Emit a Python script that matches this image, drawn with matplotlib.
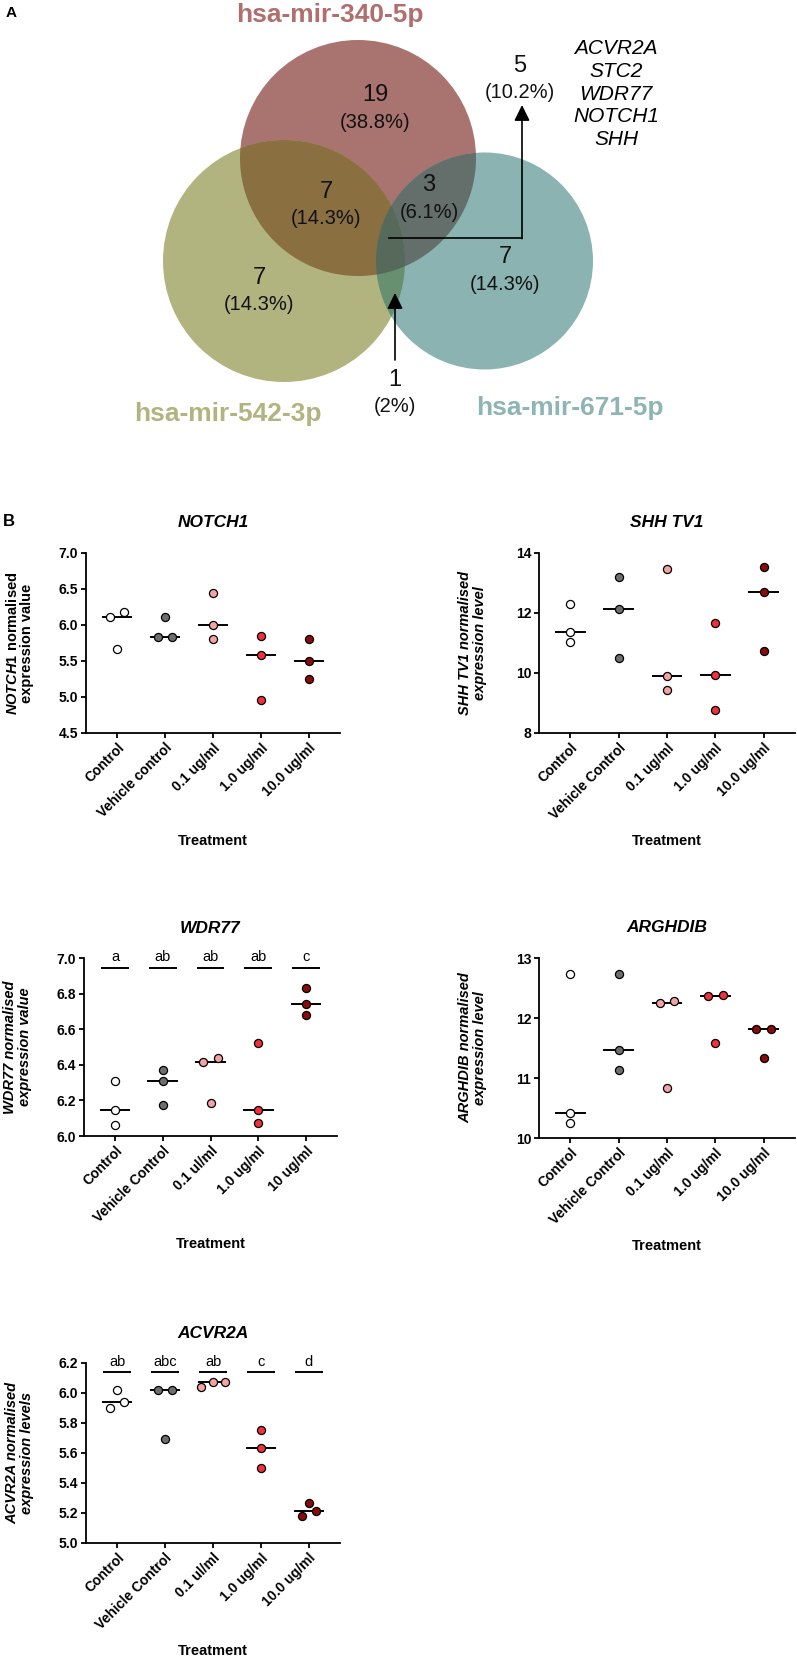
# Venn diagram of miRNA targets (A) and qPCR scatter panels (B)
import numpy as np
import matplotlib
matplotlib.use("Agg")
import matplotlib.pyplot as plt
from matplotlib.patches import Circle, Polygon
from matplotlib.ticker import FormatStrFormatter

plt.rcParams['font.family'] = ['Liberation Sans', 'DejaVu Sans']
plt.rcParams['mathtext.fontset'] = 'custom'
plt.rcParams['mathtext.it'] = 'Liberation Sans:italic:bold'
plt.rcParams['mathtext.rm'] = 'Liberation Sans:bold'
plt.rcParams['mathtext.bf'] = 'Liberation Sans:bold'

W, H = 797, 1659

# ---------------- data: panel A ----------------
venn_names = ["hsa-mir-340-5p", "hsa-mir-542-3p", "hsa-mir-671-5p"]
venn_regions = ["340", "542", "671", "340&542", "340&671", "542&671", "all"]
venn_counts = [19, 7, 7, 7, 3, 1, 5]
shared_genes = ["ACVR2A", "STC2", "WDR77", "NOTCH1", "SHH"]

# ---------------- data: panel B ----------------
group_colors = ["#FFFFFF", "#6E6E6E", "#F4A3A3", "#F0303A", "#8B0A0A"]

notch1_labels = ["Control", "Vehicle control", "0.1 ug/ml", "1.0 ug/ml", "10.0 ug/ml"]
notch1_vals = [[6.11, 6.18, 5.66], [6.11, 5.83, 5.83], [6.44, 6.00, 5.81],
               [5.85, 5.58, 4.96], [5.81, 5.50, 5.25]]
notch1_dx = [[-1, 1, 0], [0, -1, 1], [0, 0, 0], [0, 0, 0], [0, 0, 0]]

shh_labels = ["Control", "Vehicle Control", "0.1 ug/ml", "1.0 ug/ml", "10.0 ug/ml"]
shh_vals = [[12.31, 11.37, 11.02], [13.21, 12.14, 10.49], [13.46, 9.91, 9.43],
            [11.67, 9.93, 8.77], [13.52, 12.69, 10.73]]
shh_dx = [[0, 0, 0]] * 5

wdr77_labels = ["Control", "Vehicle Control", "0.1 ul/ml", "1.0 ug/ml", "10 ug/ml"]
wdr77_vals = [[6.31, 6.146, 6.064], [6.37, 6.31, 6.175], [6.417, 6.44, 6.185],
              [6.523, 6.145, 6.074], [6.834, 6.742, 6.677]]
wdr77_dx = [[0, 0, 0], [0, 0, 0], [-1, 1, 0], [0, 0, 0], [0, 0, 0]]
wdr77_letters = ["a", "ab", "ab", "ab", "c"]

arghdib_labels = ["Control", "Vehicle Control", "0.1 ug/ml", "1.0 ug/ml", "10.0 ug/ml"]
arghdib_vals = [[12.74, 10.42, 10.25], [12.73, 11.47, 11.13], [12.25, 12.28, 10.83],
                [12.36, 12.39, 11.58], [11.82, 11.82, 11.34]]
arghdib_dx = [[0, 0, 0], [0, 0, 0], [-1, 1, 0], [-1, 1, 0], [-1, 1, 0]]

acvr2a_labels = ["Control", "Vehicle Control", "0.1 ul/ml", "1.0 ug/ml", "10.0 ug/ml"]
acvr2a_vals = [[6.022, 5.899, 5.937], [6.019, 6.019, 5.694], [6.042, 6.071, 6.071],
               [5.752, 5.631, 5.502], [5.181, 5.268, 5.216]]
acvr2a_dx = [[0, -1, 1], [-1, 1, 0], [-1.7, 0, 1.7], [0, 0, 0], [-1, 0, 1]]
acvr2a_letters = ["ab", "abc", "ab", "c", "d"]


def px_axes(fig, left, top, right, bottom):
    return fig.add_axes([left / W, 1 - bottom / H, (right - left) / W, (bottom - top) / H])


def overlap_poly(circles, n=900):
    # intersection of circles (convex) as a polygon
    t = np.linspace(0, 2 * np.pi, n, endpoint=False)
    pts = []
    for k, (cx, cy, r) in enumerate(circles):
        p = np.c_[cx + r * np.cos(t), cy + r * np.sin(t)]
        keep = np.ones(n, bool)
        for j, (ox, oy, orr) in enumerate(circles):
            if j != k:
                keep &= np.hypot(p[:, 0] - ox, p[:, 1] - oy) <= orr + 1e-6
        pts.append(p[keep])
    P = np.vstack(pts)
    c = P.mean(axis=0)
    P = P[np.argsort(np.arctan2(P[:, 1] - c[1], P[:, 0] - c[0]))]
    return P


fig = plt.figure(figsize=(W / 100, H / 100), dpi=100)

# ---------------- panel A: Venn ----------------
ax0 = px_axes(fig, 0, 0, W, 430)
ax0.set_xlim(0, W)
ax0.set_ylim(430, 0)
ax0.axis('off')

circ = [(358, 158, 118), (284, 261, 121), (484.5, 261, 108.5)]
single_cols = ["#A97370", "#B2B480", "#8BB3B1"]
for (cx, cy, r), col in zip(circ, single_cols):
    ax0.add_patch(Circle((cx, cy), r, fc=col, ec='none', zorder=1))
pair_cols = {(0, 1): "#8A6F41", (0, 2): "#646F6B", (1, 2): "#66906F"}
for (a, b), col in pair_cols.items():
    ax0.add_patch(Polygon(overlap_poly([circ[a], circ[b]]), fc=col, ec='none', zorder=2))
ax0.add_patch(Polygon(overlap_poly(circ), fc="#57695A", ec='none', zorder=3))

total = sum(venn_counts)
pos = {"340": (375, 95), "542": (259, 278), "671": (505, 257), "340&542": (326, 192),
       "340&671": (429, 185), "542&671": (395, 380), "all": (520, 66)}
for reg, cnt in zip(venn_regions, venn_counts):
    x, y = pos[reg]
    pct = f"{100 * cnt / total:.1f}".rstrip('0').rstrip('.')
    ax0.text(x, y, str(cnt), ha='center', va='center', fontsize=17, color='#111111', zorder=5)
    ax0.text(x, y + 27, f"({pct}%)", ha='center', va='center', fontsize=14.5, color='#111111', zorder=5)

ax0.text(616, 94, "\n".join(shared_genes), ha='center', va='center', fontsize=15,
         fontstyle='italic', linespacing=1.24)

# arrows
arr = dict(arrowstyle='-|>,head_length=0.95,head_width=0.47', color='black', lw=1.2,
           shrinkA=0, shrinkB=0, mutation_scale=10)
ax0.plot([389, 522], [238, 238], color='black', lw=1.2, zorder=6)
ax0.annotate('', xy=(522, 105), xytext=(522, 238.6), arrowprops=arr, zorder=6)
ax0.annotate('', xy=(395, 293), xytext=(395, 360), arrowprops=arr, zorder=6)

name_cols = ["#B06E6C", "#B2B47F", "#8DB5B3"]
name_pos = [(330, 15), (228, 414), (570, 408)]
for nm, col, (x, y) in zip(venn_names, name_cols, name_pos):
    ax0.text(x, y, nm, ha='center', va='center', fontsize=19, fontweight='bold', color=col)

fig.text(11 / W, 1 - 13 / H, "A", ha='center', va='center', fontsize=11, fontweight='bold')
fig.text(9 / W, 1 - 522 / H, "B", ha='center', va='center', fontsize=12, fontweight='bold')


# ---------------- panel B ----------------
def draw_panel(ax, title, ylabel, vals, dx, labels, ylim, yticks, yfmt,
               letters=None, letter_y=None, yl_italic=True):
    for i, (v, d) in enumerate(zip(vals, dx)):
        v = np.array(v)
        x = i + np.array(d) * 0.15
        ax.plot([i - 0.32, i + 0.32], [np.median(v)] * 2, color='black', lw=1.4,
                solid_capstyle='butt', zorder=2)
        ax.scatter(x, v, s=34, c=group_colors[i], edgecolors='black', linewidths=0.9,
                   zorder=3, clip_on=False)
    ax.set_xlim(-0.65, 4.65)
    ax.set_ylim(*ylim)
    ax.set_yticks(yticks)
    ax.yaxis.set_major_formatter(FormatStrFormatter(yfmt))
    ax.set_xticks(range(len(labels)))
    ax.set_xticklabels(labels, rotation=45, ha='right', rotation_mode='anchor')
    for s in ['top', 'right']:
        ax.spines[s].set_visible(False)
    for s in ['left', 'bottom']:
        ax.spines[s].set_linewidth(1.3)
    ax.tick_params(direction='out', length=3.6, width=1.3, labelsize=10, pad=2)
    for lab in ax.get_xticklabels() + ax.get_yticklabels():
        lab.set_fontweight('bold')
    ax.annotate(title, xy=(0.5, 1), xycoords='axes fraction', xytext=(0, 21.6),
                textcoords='offset points', ha='center', va='center', fontsize=12.5,
                fontweight='bold', fontstyle='italic')
    ax.annotate(ylabel, xy=(0, 0.5), xycoords='axes fraction', xytext=(-48, 0),
                textcoords='offset points', ha='center', va='center', rotation=90,
                fontsize=10.5, fontweight='bold', linespacing=1.05,
                fontstyle='italic' if yl_italic else 'normal')
    ax.annotate("Treatment", xy=(0.5, 0), xycoords='axes fraction', xytext=(0, -78),
                textcoords='offset points', ha='center', va='center', fontsize=10.5,
                fontweight='bold')
    if letters:
        for i, lt in enumerate(letters):
            ax.plot([i - 0.29, i + 0.29], [letter_y] * 2, color='black', lw=1.4,
                    solid_capstyle='butt', clip_on=False)
            ax.annotate(lt, xy=(i, letter_y), xytext=(0, 4.5), textcoords='offset points',
                        ha='center', va='baseline', fontsize=10.5, annotation_clip=False)


ax1 = px_axes(fig, 86, 553, 340, 733)
draw_panel(ax1, "NOTCH1", "$\\mathit{NOTCH1}$ normalised\nexpression value", notch1_vals,
           notch1_dx, notch1_labels, (4.5, 7.0), np.arange(4.5, 7.01, 0.5), '%.1f',
           yl_italic=False)

ax2 = px_axes(fig, 539, 553, 795, 733)
draw_panel(ax2, "SHH TV1", "SHH TV1 normalised\nexpression level", shh_vals, shh_dx,
           shh_labels, (8, 14), [8, 10, 12, 14], '%d')

ax3 = px_axes(fig, 84, 958, 337, 1136)
draw_panel(ax3, "WDR77", "WDR77 normalised\nexpression value", wdr77_vals, wdr77_dx,
           wdr77_labels, (6.0, 7.0), np.arange(6.0, 7.01, 0.2), '%.1f',
           letters=wdr77_letters, letter_y=6.946)

ax4 = px_axes(fig, 539, 958, 795, 1138)
draw_panel(ax4, "ARGHDIB", "ARGHDIB normalised\nexpression level", arghdib_vals, arghdib_dx,
           arghdib_labels, (10, 13), [10, 11, 12, 13], '%d')

ax5 = px_axes(fig, 86, 1363, 340, 1543)
draw_panel(ax5, "ACVR2A", "ACVR2A normalised\nexpression levels", acvr2a_vals, acvr2a_dx,
           acvr2a_labels, (5.0, 6.2), np.arange(5.0, 6.21, 0.2), '%.1f',
           letters=acvr2a_letters, letter_y=6.1375)

fig.savefig("out.png", dpi=100)
